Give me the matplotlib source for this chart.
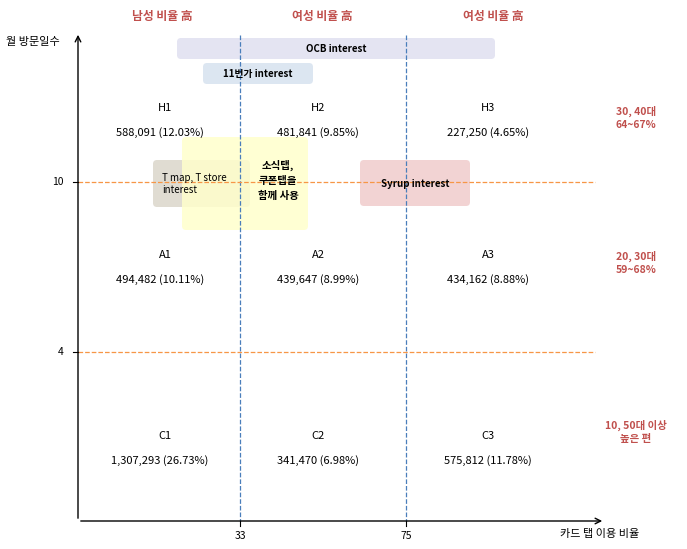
import matplotlib
matplotlib.use("Agg")
import matplotlib.pyplot as plt
from matplotlib.patches import FancyBboxPatch

plt.rcParams['font.family'] = ['Noto Sans CJK KR', 'DejaVu Sans']

# data
x_ticks = ["33", "75"]
y_ticks = ["10", "4"]
col_headers = ["남성 비율 高", "여성 비율 高", "여성 비율 高"]
row_notes = ["30, 40대\n64~67%", "20, 30대\n59~68%", "10, 50대 이상\n높은 편"]
cells = [["H1", "H2", "H3"], ["A1", "A2", "A3"], ["C1", "C2", "C3"]]
values = [["588,091 (12.03%)", "481,841 (9.85%)", "227,250 (4.65%)"],
          ["494,482 (10.11%)", "439,647 (8.99%)", "434,162 (8.88%)"],
          ["1,307,293 (26.73%)", "341,470 (6.98%)", "575,812 (11.78%)"]]

W, H = 687, 549
fig = plt.figure(figsize=(W/100, H/100), dpi=100)
ax = fig.add_axes([0, 0, 1, 1])
ax.set_xlim(0, W); ax.set_ylim(H, 0); ax.axis('off')

# axes arrows
ax.annotate("", xy=(78, 32), xytext=(78, 521), arrowprops=dict(arrowstyle="->", lw=1, color='black'))
ax.annotate("", xy=(605, 521), xytext=(78, 521), arrowprops=dict(arrowstyle="->", lw=1, color='black'))
ax.text(6, 42, "월 방문일수", fontsize=8, va='center')
ax.text(560, 534, "카드 탭 이용 비율", fontsize=8, va='center')

xpos = [240, 406]
ypos = [182, 352]
for xp, lbl in zip(xpos, x_ticks):
    ax.plot([xp, xp], [35, 521], ls='--', color='#4a7ebb', lw=0.9)
    ax.plot([xp, xp], [521, 526], color='black', lw=0.8)
    ax.text(xp, 536, lbl, fontsize=7.5, ha='center', va='center')
for yp, lbl in zip(ypos, y_ticks):
    ax.plot([78, 595], [yp, yp], ls='--', color='#f79646', lw=0.9)
    ax.plot([73, 78], [yp, yp], color='black', lw=0.8)
    ax.text(64, yp, lbl, fontsize=7.5, ha='right', va='center')

# boxes
def box(x0, y0, w, h, fc, alpha=1):
    ax.add_patch(FancyBboxPatch((x0, y0), w, h, boxstyle="round,pad=0,rounding_size=4",
                                fc=fc, ec='none', alpha=alpha))
box(177, 38, 318, 21, '#e4e4f2')
ax.text(336, 49, "OCB interest", fontsize=7, weight='bold', ha='center', va='center')
box(203, 63, 110, 21, '#dce6f1')
ax.text(258, 74, "11번가 interest", fontsize=7, weight='bold', ha='center', va='center')
box(153, 160, 97, 47, '#e0dcd2')
box(182, 137, 126, 93, '#ffffcc', alpha=0.85)
ax.text(162, 184, "T map, T store\ninterest", fontsize=7, ha='left', va='center', linespacing=1.2)
ax.text(278, 180, "소식탭,\n쿠폰탭을\n함께 사용", fontsize=7.5, weight='bold', ha='center', va='center', linespacing=1.6)
box(360, 160, 110, 46, '#f2d3d3')
ax.text(415, 184, "Syrup interest", fontsize=7, weight='bold', ha='center', va='center')

# headers
hx = [162, 322, 493]
for x, t in zip(hx, col_headers):
    ax.text(x, 16, t, fontsize=8.5, color='#c0504d', weight='bold', ha='center', va='center')
ny = [118, 263, 432]
for y, t in zip(ny, row_notes):
    ax.text(636, y, t, fontsize=7.5, color='#c0504d', weight='bold', ha='center', va='center', linespacing=1.4)

cx = [165, 318, 488]
cy = [108, 255, 436]
for i in range(3):
    for j in range(3):
        ax.text(cx[j], cy[i], cells[i][j], fontsize=8, ha='center', va='center')
        ax.text(cx[j] - 5 if j == 0 else cx[j], cy[i] + 25, values[i][j], fontsize=8, ha='center', va='center')

fig.savefig("out.png", dpi=100)
